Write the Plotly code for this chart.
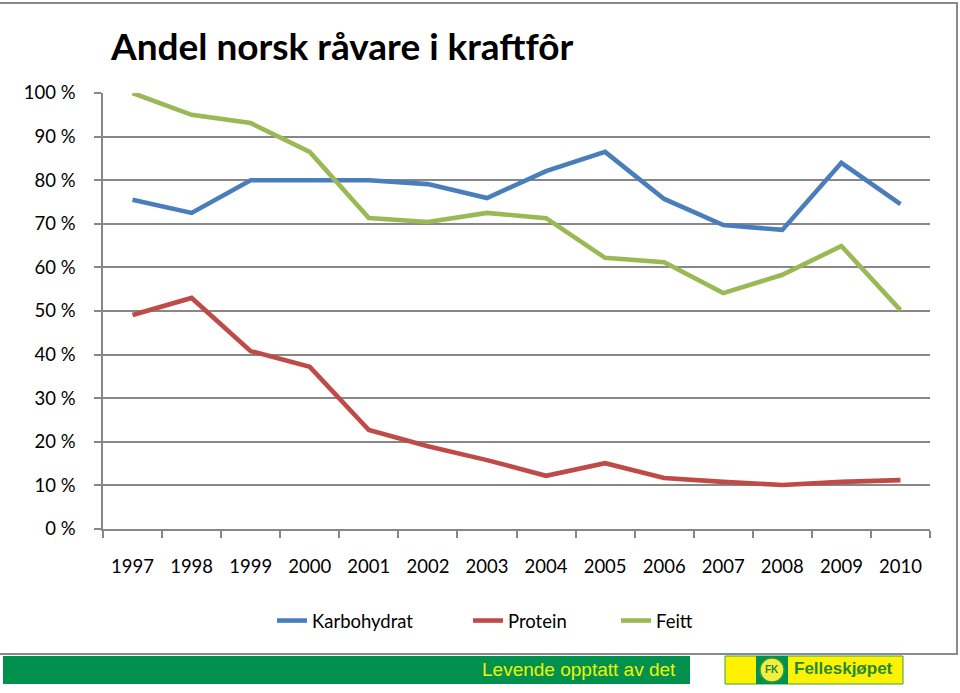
import plotly.graph_objects as go

years = ["1997", "1998", "1999", "2000", "2001", "2002", "2003", "2004",
         "2005", "2006", "2007", "2008", "2009", "2010"]
karbohydrat = [75.5, 72.5, 80.0, 80.0, 80.0, 79.1, 75.9, 82.1, 86.5, 75.7, 69.7, 68.6, 84.0, 74.5]
protein = [49.1, 53.0, 40.8, 37.2, 22.7, 19.0, 15.8, 12.2, 15.1, 11.7, 10.8, 10.1, 10.8, 11.2]
feitt = [100.0, 95.0, 93.1, 86.5, 71.3, 70.4, 72.5, 71.3, 62.2, 61.2, 54.1, 58.3, 64.9, 50.2]
y_ticks = [0, 10, 20, 30, 40, 50, 60, 70, 80, 90, 100]
y_tick_labels = ["0 %", "10 %", "20 %", "30 %", "40 %", "50 %", "60 %", "70 %", "80 %", "90 %", "100 %"]

W, H = 960, 693
L, R, T, B = 103, 30, 93, 164
PW, PH = W - L - R, H - T - B

def px(x):
    return (x - L) / PW

def py(y):
    return (H - B - y) / PH

FONT = "Lato, Carlito, Calibri, sans-serif"
GRID = "#878787"

fig = go.Figure()
series = [("Karbohydrat", karbohydrat, "#4A7EBB", "legend", 272),
          ("Protein", protein, "#BE4B48", "legend2", 468),
          ("Feitt", feitt, "#98B954", "legend3", 616)]
legend_layout = {}
for name, vals, col, leg, lx in series:
    fig.add_trace(go.Scatter(x=years, y=vals, name=name, mode="lines", legend=leg,
                             line=dict(color=col, width=4.6)))
    legend_layout[leg] = dict(orientation="h", x=px(lx), y=py(621), xanchor="left",
                              yanchor="middle", bgcolor="rgba(0,0,0,0)", borderwidth=0,
                              font=dict(family=FONT, size=18.5, color="black"))

shapes = []
# outer frame
shapes.append(dict(type="rect", xref="paper", yref="paper",
                   x0=px(-2), x1=px(957), y0=py(654), y1=py(3),
                   line=dict(color="#8a8a8a", width=2), layer="below"))
# green banner
shapes.append(dict(type="rect", xref="paper", yref="paper",
                   x0=px(3), x1=px(690), y0=py(684), y1=py(656),
                   fillcolor="#00914F", line=dict(width=0), layer="below"))
# yellow box
shapes.append(dict(type="rect", xref="paper", yref="paper",
                   x0=px(725), x1=px(903), y0=py(684), y1=py(656),
                   fillcolor="#FFF200", line=dict(color="#3aa04a", width=1), layer="below"))
# logo square
shapes.append(dict(type="rect", xref="paper", yref="paper",
                   x0=px(756), x1=px(788), y0=py(684), y1=py(656),
                   fillcolor="#00914F", line=dict(width=0), layer="below"))
# logo circle
shapes.append(dict(type="circle", xref="paper", yref="paper",
                   x0=px(760), x1=px(784), y0=py(682), y1=py(658),
                   fillcolor="#F5EE3A", line=dict(color="#2f9a45", width=1.5), layer="below"))

annotations = [
    dict(text="<b>Andel norsk råvare i kraftfôr</b>", xref="paper", yref="paper",
         x=px(108), y=py(45), xanchor="left", yanchor="middle", showarrow=False,
         font=dict(family=FONT, size=37, color="black")),
    dict(text="Levende opptatt av det", xref="paper", yref="paper",
         x=px(678), y=py(669), xanchor="right", yanchor="middle", showarrow=False,
         font=dict(family="Liberation Sans Narrow, Arial Narrow, Liberation Sans, sans-serif",
                   size=19, color="#F2F200")),
    dict(text="<b>FK</b>", xref="paper", yref="paper",
         x=px(772), y=py(669), xanchor="center", yanchor="middle", showarrow=False,
         font=dict(family="Liberation Sans, sans-serif", size=10, color="#1f8a3a")),
    dict(text="<b>Felleskjøpet</b>", xref="paper", yref="paper",
         x=px(843), y=py(668), xanchor="center", yanchor="middle", showarrow=False,
         font=dict(family="Liberation Sans Narrow, Arial Narrow, Liberation Sans, sans-serif",
                   size=17, color="#1f8a3a")),
]

fig.update_layout(
    width=W, height=H,
    margin=dict(l=L, r=R, t=T, b=B, pad=0),
    paper_bgcolor="white", plot_bgcolor="white",
    font=dict(family=FONT, size=18.5, color="black"),
    showlegend=True,
    shapes=shapes,
    annotations=annotations,
    **legend_layout,
)
fig.update_xaxes(type="category", range=[-0.5, 13.5], showgrid=False,
                 showline=True, linecolor=GRID, linewidth=1.5,
                 ticks="outside", tickson="boundaries", ticklen=7, tickcolor=GRID, tickwidth=1.5,
                 ticklabelstandoff=20, fixedrange=True)
fig.update_yaxes(range=[0, 100], tickmode="array", tickvals=y_ticks, ticktext=y_tick_labels,
                 showgrid=True, gridcolor=GRID, gridwidth=1.5,
                 showline=True, linecolor=GRID, linewidth=1.5,
                 ticks="outside", ticklen=7, tickcolor=GRID, tickwidth=1.5,
                 ticklabelstandoff=15, zeroline=False, fixedrange=True)

fig.write_html("out.html", config={"displayModeBar": False},
               post_script="document.body.style.margin='0';")
